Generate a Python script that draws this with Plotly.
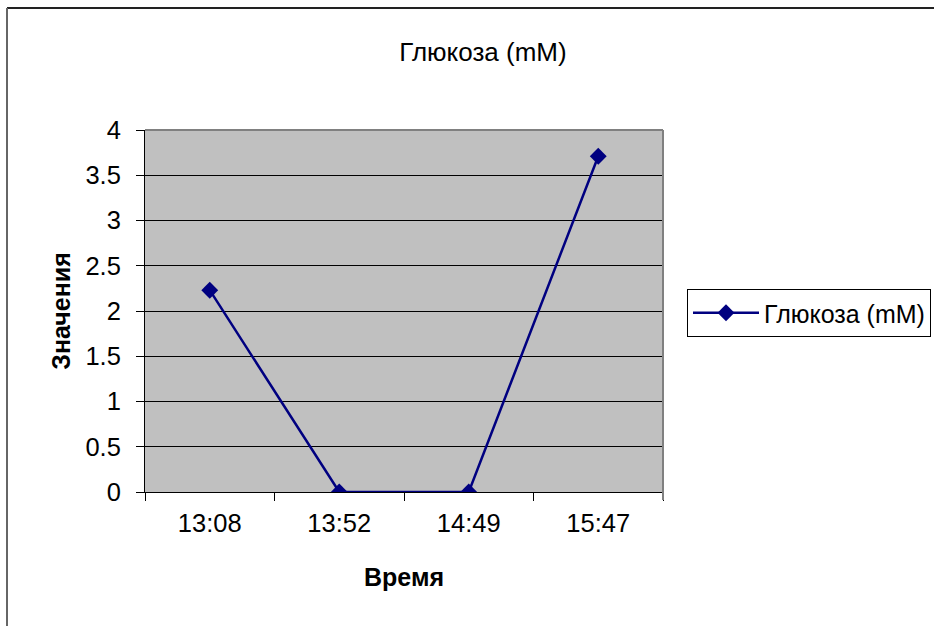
import plotly.graph_objects as go

# Measurement times and glucose concentration
times = ["13:08", "13:52", "14:49", "15:47"]
glucose = [2.23, 0.0, 0.0, 3.71]
series_name = "Глюкоза (mM)"
y_ticks = [0, 0.5, 1, 1.5, 2, 2.5, 3, 3.5, 4]
y_tick_text = ["0", "0.5", "1", "1.5", "2", "2.5", "3", "3.5", "4"]

W, H = 934, 626
L, R, T, B = 145, 271, 130, 134
pw, ph = W - L - R, H - T - B

FONT = "Liberation Sans, Arial, sans-serif"
NAVY = "#000080"

fig = go.Figure()
fig.add_trace(go.Scatter(
    x=times, y=glucose, name=series_name, mode="lines+markers",
    line=dict(color=NAVY, width=2.5),
    marker=dict(symbol="diamond", size=13, color=NAVY),
))

# outer chart frame (left and top edges)
fx = (7 - L) / pw
fy = (H - B - 8) / ph
frame = dict(color="#222222", width=2)
shapes = [
    dict(type="line", xref="paper", yref="paper", x0=fx, x1=2.0, y0=fy, y1=fy, line=frame),
    dict(type="line", xref="paper", yref="paper", x0=fx, x1=fx, y0=fy, y1=-1.0, line=dict(color="#666666", width=2)),
    # gray plot-area border on top and right
    dict(type="line", xref="paper", yref="paper", x0=0, x1=1, y0=1, y1=1, line=dict(color="#808080", width=2)),
    dict(type="line", xref="paper", yref="paper", x0=1, x1=1, y0=1, y1=-8 / ph, line=dict(color="#808080", width=2)),
]

fig.update_layout(
    width=W, height=H,
    margin=dict(l=L, r=R, t=T, b=B, autoexpand=False),
    paper_bgcolor="white",
    plot_bgcolor="#c0c0c0",
    font=dict(family=FONT, size=25.5, color="black"),
    title=dict(text=series_name, x=483 / W, y=1 - 52 / H, xref="container", yref="container",
               xanchor="center", yanchor="middle", font=dict(size=26)),
    showlegend=True,
    legend=dict(
        x=(687 - L) / pw, y=(H - B - 289) / ph, xanchor="left", yanchor="top",
        bordercolor="black", borderwidth=1, bgcolor="white",
        font=dict(size=25), itemwidth=66,
    ),
    xaxis=dict(
        type="category", range=[-0.5, 3.5], tickson="boundaries",
        ticks="outside", ticklen=8, tickcolor="black", tickwidth=1,
        showline=True, linecolor="black", linewidth=1,
        showgrid=False, zeroline=False,
        tickfont=dict(size=25.5), ticklabelstandoff=8,
        title=dict(text="<b>Время</b>", font=dict(size=25), standoff=32),
    ),
    yaxis=dict(
        range=[0, 4], tickvals=y_ticks, ticktext=y_tick_text,
        ticks="outside", ticklen=8, tickcolor="black", tickwidth=1,
        showline=True, linecolor="black", linewidth=1,
        showgrid=True, gridcolor="black", gridwidth=1, zeroline=False,
        tickfont=dict(size=25.5), ticklabelstandoff=10,
        title=dict(text="<b>Значения</b>", font=dict(size=25), standoff=7),
    ),
    shapes=shapes,
)

fig.write_html("out.html")
